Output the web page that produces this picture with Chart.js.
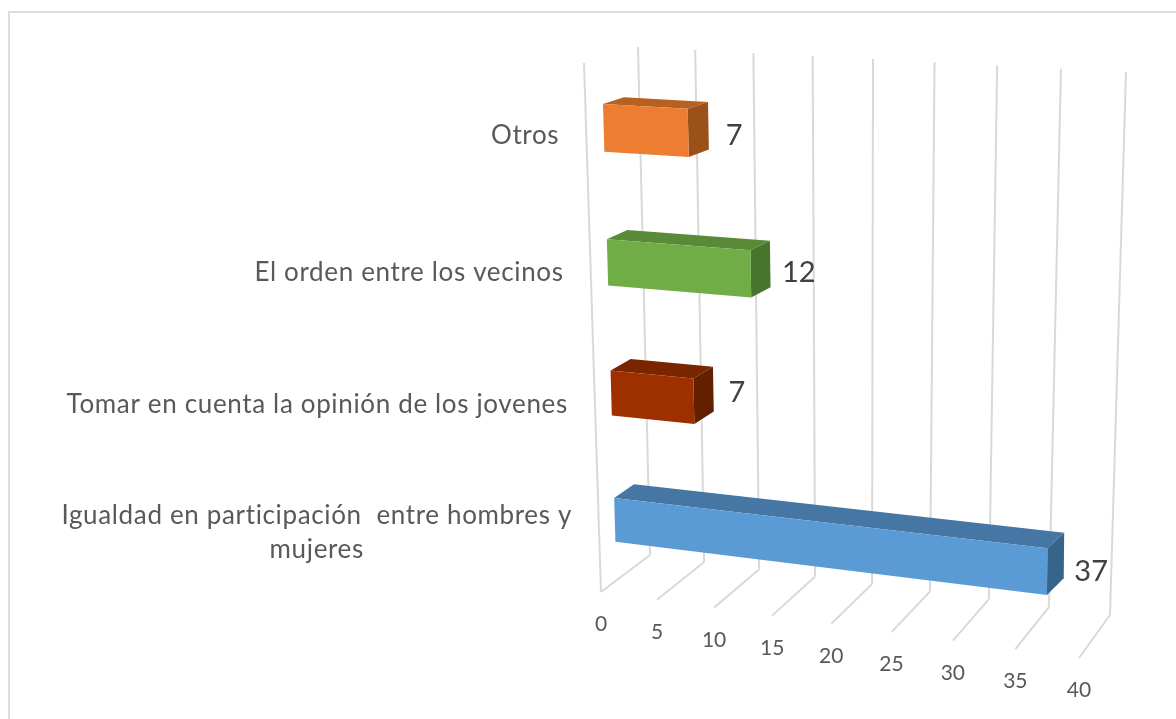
<!DOCTYPE html>
<html>
<head>
<meta charset="utf-8">
<style>
  html, body { margin: 0; padding: 0; background: #fff; overflow: hidden; }
  #frame { position: absolute; left: 8px; top: 11px; width: 1300px; height: 900px; border: 2px solid #dcdcdc; }
  canvas { position: absolute; left: 0; top: 0; }
</style>
</head>
<body>
<div id="frame"></div>
<canvas id="chart" width="1176" height="719"></canvas>
<script src="https://cdn.jsdelivr.net/npm/chart.js@4"></script>
<script>
const categories = [
  'Otros',
  'El orden entre los vecinos',
  'Tomar en cuenta la opinión de los jovenes',
  ['Igualdad en participación  entre hombres y', 'mujeres']
];
const values = [7, 12, 7, 37];
const frontColors = ['#ed7d31', '#70ad47', '#9e3000', '#5b9bd5'];
const topColors = ['#b8601f', '#588a37', '#7a2500', '#4676a3'];
const sideColors = ['#9c5119', '#48752c', '#632000', '#386489'];

// where the value labels sit relative to the end of the bar
const valueNudge = [[46, 3], [48, -1], [43, -9], [44, 0]];

// corners as (u=0,v=0) (u=1,v=0) (u=1,v=1) (u=0,v=1)
function quad(p0, p1, p2, p3) {
  const dx1 = p1[0] - p2[0], dx2 = p3[0] - p2[0], sx = p0[0] - p1[0] + p2[0] - p3[0];
  const dy1 = p1[1] - p2[1], dy2 = p3[1] - p2[1], sy = p0[1] - p1[1] + p2[1] - p3[1];
  const den = dx1 * dy2 - dx2 * dy1;
  const g = (sx * dy2 - dx2 * sy) / den;
  const h = (dx1 * sy - sx * dy1) / den;
  const a = p1[0] - p0[0] + g * p1[0], b = p3[0] - p0[0] + h * p3[0];
  const d = p1[1] - p0[1] + g * p1[1], e = p3[1] - p0[1] + h * p3[1];
  return (u, v) => {
    const w = g * u + h * v + 1;
    return [(a * u + b * v + p0[0]) / w, (d * u + e * v + p0[1]) / w];
  };
}

// bars looked better with a plain bilinear map than with the wall perspective,
// only the rows get squeezed towards the bottom
const barRow = v => ((59.2 + 557.8 * v) / (1 + 0.06 * v) - 58) / 522;

function bilinear(p0, p1, p2, p3) {
  return (u, v) => [0, 1].map(k => {
    const a = p0[k] + (p1[k] - p0[k]) * u;
    const b = p3[k] + (p2[k] - p3[k]) * u;
    return a + (b - a) * barRow(v);
  });
}

// box of the 3d chart on screen
const frontPlane = quad([584, 63], [1097, 91], [1079, 658], [601, 592]);
const backPlane = quad([638, 47], [1126, 72], [1110, 615], [650, 555]);
const barFrontPlane = bilinear([601.7, 58], [1087.7, 82], [1081.5, 640], [616.5, 580]);
const barBackPlane = bilinear([622.8, 52], [1104.8, 76], [1098, 622.5], [636, 564.7]);

function project(u, v, depth) {
  const f = frontPlane(u, v), b = backPlane(u, v);
  return [f[0] + (b[0] - f[0]) * depth, f[1] + (b[1] - f[1]) * depth];
}

function fillPoly(ctx, pts, color) {
  ctx.fillStyle = color;
  ctx.beginPath();
  pts.forEach((p, i) => (i ? ctx.lineTo(p[0], p[1]) : ctx.moveTo(p[0], p[1])));
  ctx.closePath();
  ctx.fill();
}

function strokeLine(ctx, a, b) {
  ctx.beginPath();
  ctx.moveTo(a[0], a[1]);
  ctx.lineTo(b[0], b[1]);
  ctx.stroke();
}

const box3d = {
  id: 'box3d',
  // the normal flat bars are replaced by the projected ones below
  beforeDatasetsDraw() {
    return false;
  },
  afterDraw(chart) {
    const { ctx, chartArea, scales } = chart;
    const xs = scales.x, ys = scales.y;
    const toU = px => (px - chartArea.left) / chartArea.width;
    const toV = py => (py - chartArea.top) / chartArea.height;

    ctx.save();

    // gridlines: back wall and floor, one per tick
    ctx.strokeStyle = '#d9d9d9';
    ctx.lineWidth = 2;
    strokeLine(ctx, project(0, 0, 0), project(0, 1, 0));
    xs.ticks.forEach((tick, i) => {
      const u = toU(xs.getPixelForTick(i));
      strokeLine(ctx, project(u, 0, 1), project(u, 1, 1));
      strokeLine(ctx, project(u, 1, 1), project(u, 1, 0));
    });

    // tick labels under the floor
    ctx.fillStyle = '#595959';
    ctx.font = '21px Lato';
    ctx.textAlign = 'center';
    ctx.textBaseline = 'middle';
    xs.ticks.forEach((tick, i) => {
      const p = project(toU(xs.getPixelForTick(i)), 1, 0);
      ctx.fillText(tick.label, p[0], p[1] + 32.5);
    });

    // category labels, right aligned on the left of the box
    ctx.font = '26px Lato';
    ctx.letterSpacing = '0.65px';
    categories.forEach((label, i) => {
      const p = project(0, toV(ys.getPixelForTick(i)), 0);
      const yMid = p[1] + 2.5;
      const lines = [].concat(label);
      const w = Math.max(...lines.map(t => ctx.measureText(t).width));
      const right = p[0] - 27;
      lines.forEach((t, n) => {
        ctx.fillText(t, right - w / 2, yMid + (n - (lines.length - 1) / 2) * 34);
      });
    });
    ctx.letterSpacing = '0px';

    // bars
    const bars = chart.getDatasetMeta(0).data;
    bars.forEach((bar, i) => {
      const u0 = toU(xs.getPixelForValue(0)), u1 = toU(bar.x);
      const v0 = toV(bar.y - bar.height / 2), v1 = toV(bar.y + bar.height / 2);
      const fa = barFrontPlane(u0, v0), fb = barFrontPlane(u1, v0);
      const fc = barFrontPlane(u1, v1), fd = barFrontPlane(u0, v1);
      const ba = barBackPlane(u0, v0), bb = barBackPlane(u1, v0);
      const bc = barBackPlane(u1, v1);
      fillPoly(ctx, [fa, ba, bb, fb], topColors[i]);
      fillPoly(ctx, [fb, bb, bc, fc], sideColors[i]);
      fillPoly(ctx, [fa, fb, fc, fd], frontColors[i]);
    });

    // value labels
    ctx.fillStyle = '#404040';
    ctx.font = '29px Lato';
    bars.forEach((bar, i) => {
      const p = barFrontPlane(toU(bar.x), toV(bar.y));
      ctx.fillText(String(values[i]), p[0] + valueNudge[i][0], p[1] + valueNudge[i][1]);
    });

    ctx.restore();
  }
};

new Chart(document.getElementById('chart'), {
  type: 'bar',
  data: {
    labels: categories,
    datasets: [{
      data: values,
      backgroundColor: frontColors,
      barPercentage: 0.35,
      categoryPercentage: 1
    }]
  },
  options: {
    indexAxis: 'y',
    responsive: false,
    animation: false,
    layout: { padding: { left: 600, right: 60, top: 60, bottom: 110 } },
    plugins: { legend: { display: false }, tooltip: { enabled: false } },
    scales: {
      x: {
        min: 0,
        max: 40,
        ticks: { stepSize: 5, display: false },
        grid: { display: false },
        border: { display: false }
      },
      y: {
        ticks: { display: false },
        grid: { display: false },
        border: { display: false }
      }
    }
  },
  plugins: [box3d]
});
</script>
</body>
</html>
